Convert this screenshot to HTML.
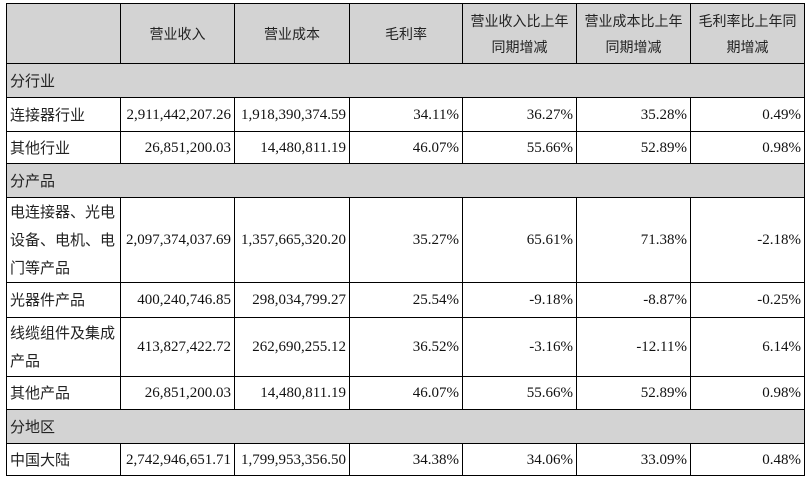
<!DOCTYPE html>
<html><head><meta charset="utf-8"><style>
body{margin:0;background:#fff;width:810px;height:479px;overflow:hidden}
table{position:absolute;left:6px;top:3px;border-collapse:collapse;table-layout:fixed;font-family:"Liberation Serif","Noto Serif CJK SC","Noto Sans CJK SC",serif;font-size:15px;color:#111}
td{border:1.5px solid #000;padding:0 3px;text-align:right;white-space:nowrap;line-height:26px;overflow:hidden}
td.l{text-align:left}
tr.h td{background:#d3d3d3;text-align:center;line-height:26px;font-family:"Noto Sans CJK SC",sans-serif;font-size:14px;color:#222}
tr.g td{background:#d3d3d3;text-align:left}
.cj{font-family:"Noto Sans CJK SC",sans-serif;font-size:15px;color:#222}
</style></head><body>
<table>
<colgroup><col style="width:114px"><col style="width:114px"><col style="width:115px"><col style="width:113px"><col style="width:114px"><col style="width:114px"><col style="width:114px"></colgroup>
<tr class="h" style="height:60px"><td></td><td>营业收入</td><td>营业成本</td><td>毛利率</td><td>营业收入比上年<br>同期增减</td><td>营业成本比上年<br>同期增减</td><td>毛利率比上年同<br>期增减</td></tr>
<tr class="g" style="height:34px"><td colspan="7" class="cj">分行业</td></tr>
<tr style="height:34px"><td class="l cj">连接器行业</td><td>2,911,442,207.26</td><td>1,918,390,374.59</td><td>34.11%</td><td>36.27%</td><td>35.28%</td><td>0.49%</td></tr>
<tr style="height:32px"><td class="l cj">其他行业</td><td>26,851,200.03</td><td>14,480,811.19</td><td>46.07%</td><td>55.66%</td><td>52.89%</td><td>0.98%</td></tr>
<tr class="g" style="height:34px"><td colspan="7" class="cj">分产品</td></tr>
<tr style="height:85px"><td class="l cj" style="line-height:28px">电连接器、光电<br>设备、电机、电<br>门等产品</td><td>2,097,374,037.69</td><td>1,357,665,320.20</td><td>35.27%</td><td>65.61%</td><td>71.38%</td><td>-2.18%</td></tr>
<tr style="height:35px"><td class="l cj">光器件产品</td><td>400,240,746.85</td><td>298,034,799.27</td><td>25.54%</td><td>-9.18%</td><td>-8.87%</td><td>-0.25%</td></tr>
<tr style="height:59px"><td class="l cj" style="line-height:28px">线缆组件及集成<br>产品</td><td>413,827,422.72</td><td>262,690,255.12</td><td>36.52%</td><td>-3.16%</td><td>-12.11%</td><td>6.14%</td></tr>
<tr style="height:33px"><td class="l cj">其他产品</td><td>26,851,200.03</td><td>14,480,811.19</td><td>46.07%</td><td>55.66%</td><td>52.89%</td><td>0.98%</td></tr>
<tr class="g" style="height:34px"><td colspan="7" class="cj">分地区</td></tr>
<tr style="height:32px"><td class="l cj">中国大陆</td><td>2,742,946,651.71</td><td>1,799,953,356.50</td><td>34.38%</td><td>34.06%</td><td>33.09%</td><td>0.48%</td></tr>
</table>
</body></html>
